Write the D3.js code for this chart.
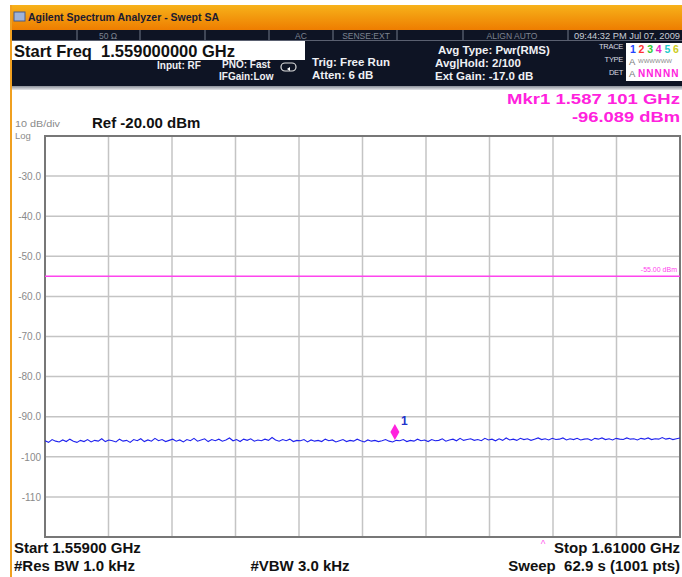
<!DOCTYPE html>
<html><head><meta charset="utf-8">
<script src="https://cdn.jsdelivr.net/npm/d3@7"></script>
<style>
html,body{margin:0;padding:0;background:#fff;}
svg{display:block;font-family:"Liberation Sans",Arial,sans-serif;}
</style></head>
<body>
<svg id="c" width="682" height="577"></svg>
<script>
// ---- data ----
const freqRange = [1.559, 1.610];          // GHz
const levelRange = [-120, -20];            // dBm
const yTickValues = [-30, -40, -50, -60, -70, -80, -90, -100, -110];
const yTickLabels = ["-30.0", "-40.0", "-50.0", "-60.0", "-70.0", "-80.0", "-90.0", "-100", "-110"];
const xGridCount = 10;
const limitLevel = -55;
const limitLabel = "-55.00 dBm";
const markerFreq = 1.587101;
const markerLevel = -96.089;
const traceDbm = [
 -96.0,-96.4,-95.7,-96.1,-96.3,-95.8,-96.2,-95.6,-96.1,-96.4,-95.9,-96.2,-95.7,-96.3,-95.9,-96.1,-95.5,-96.2,-95.8,-96.0,
 -96.3,-95.6,-96.1,-95.9,-96.4,-95.7,-96.0,-95.5,-96.2,-95.8,-96.1,-95.4,-96.0,-95.7,-96.2,-95.9,-95.6,-96.1,-95.8,-96.3,
 -95.7,-96.0,-95.4,-96.1,-95.8,-95.5,-96.2,-95.7,-96.0,-95.6,-96.1,-95.8,-95.3,-96.0,-95.7,-96.2,-95.6,-95.9,-95.5,-96.1,
 -95.8,-96.0,-95.6,-95.9,-95.2,-95.8,-96.1,-95.7,-96.0,-95.6,-96.2,-95.9,-96.0,-95.7,-96.3,-95.8,-96.1,-95.9,-96.2,-95.6,
 -96.0,-95.8,-96.3,-96.0,-95.7,-96.2,-95.9,-96.1,-95.6,-96.0,-96.3,-95.8,-96.1,-95.9,-96.2,-96.0,-95.7,-96.1,-96.3,-95.9,
 -96.0,-95.7,-96.2,-95.9,-96.1,-95.6,-96.0,-95.8,-96.2,-95.7,-96.0,-95.9,-95.5,-96.1,-95.8,-95.6,-96.0,-95.4,-95.9,-95.7,
 -95.5,-95.9,-95.7,-96.0,-95.4,-95.8,-95.6,-96.0,-95.5,-95.9,-95.3,-95.8,-95.6,-95.9,-95.4,-95.7,-95.5,-95.9,-95.6,-95.3,
 -95.7,-95.5,-95.8,-95.4,-95.7,-95.6,-95.3,-95.8,-95.5,-95.7,-95.4,-95.8,-95.6,-95.5,-95.9,-95.4,-95.6,-95.3,-95.7,-95.5,
 -95.8,-95.4,-95.6,-95.7,-95.3,-95.6,-95.5,-95.8,-95.4,-95.6,-95.3,-95.7,-95.5,-95.6,-95.2,-95.6,-95.4,-95.7,-95.5,-95.3
];
const headerTexts = {
  title: "Agilent Spectrum Analyzer - Swept SA",
  startFreq: "Start Freq  1.559000000 GHz",
  bottomLeft1: "Start 1.55900 GHz",
  bottomLeft2: "#Res BW 1.0 kHz",
  bottomMid: "#VBW 3.0 kHz",
  bottomRight1: "Stop 1.61000 GHz",
  bottomRight2: "Sweep  62.9 s (1001 pts)",
  mkr1: "Mkr1 1.587 101 GHz",
  mkr2: "-96.089 dBm"
};

// ---- layout ----
const svg = d3.select("#c");
const P = {l: 45, r: 680, t: 136, b: 537};
const x = d3.scaleLinear().domain(freqRange).range([P.l, P.r]);
const y = d3.scaleLinear().domain(levelRange).range([P.b, P.t]);

// defs
const defs = svg.append("defs");
const og = defs.append("linearGradient").attr("id","og").attr("x1",0).attr("y1",0).attr("x2",0).attr("y2",1);
og.append("stop").attr("offset","0%").attr("stop-color","#f7b21a");
og.append("stop").attr("offset","100%").attr("stop-color","#ee7d00");
const gg = defs.append("linearGradient").attr("id","gg").attr("x1",0).attr("y1",0).attr("x2",0).attr("y2",1);
gg.append("stop").attr("offset","0%").attr("stop-color","#8a8f98");
gg.append("stop").attr("offset","100%").attr("stop-color","#e6e7ea");

// title bar
svg.append("rect").attr("x",10).attr("y",5).attr("width",672).attr("height",25).attr("fill","url(#og)");
svg.append("rect").attr("x",10).attr("y",5).attr("width",2).attr("height",572).attr("fill","#f0a020");
svg.append("rect").attr("x",14).attr("y",12).attr("width",11).attr("height",9).attr("fill","#9fb3d9").attr("stroke","#4a5d8a").attr("stroke-width",1);
svg.append("text").attr("x",28).attr("y",21).attr("font-size",10.5).attr("font-weight","bold").attr("fill","#1b1b30").text(headerTexts.title);

// status row
svg.append("rect").attr("x",12).attr("y",30).attr("width",670).attr("height",57).attr("fill","#0e1424");
const seps = [77, 140, 205, 269, 333, 397, 463, 568];
svg.selectAll(".sep").data(seps).enter().append("line")
  .attr("x1",d=>d).attr("x2",d=>d).attr("y1",30).attr("y2",40).attr("stroke","#707888").attr("stroke-width",1);
const statusItems = [[108,"50 Ω"],[301,"AC"],[366,"SENSE:EXT"],[512,"ALIGN AUTO"],[627,"09:44:32 PM Jul 07, 2009"]];
svg.selectAll(".st").data(statusItems).enter().append("text")
  .attr("x",d=>d[0]).attr("y",38.5).attr("text-anchor","middle").attr("font-size",d=>d[1].length>20?9.3:8.5)
  .attr("fill",(d,i)=>i===4?"#c8ccd4":"#7d8390").text(d=>d[1]);
svg.append("line").attr("x1",12).attr("x2",682).attr("y1",40.5).attr("y2",40.5).attr("stroke","#5a6070");

// Start freq box
svg.append("rect").attr("x",12).attr("y",41).attr("width",293).attr("height",19).attr("fill","#fff");
svg.append("text").attr("x",14).attr("y",57).attr("font-size",16.5).attr("font-weight","bold").attr("fill","#111")
  .style("white-space","pre").text(headerTexts.startFreq);

// header white texts
const hdr = [
  [157,69,"Input: RF",10],
  [222,68,"PNO: Fast",10],
  [219,80,"IFGain:Low",10],
  [312,66,"Trig: Free Run",11.5],
  [312,79,"Atten: 6 dB",11.5],
  [438,54,"Avg Type: Pwr(RMS)",11.5],
  [435,67,"Avg|Hold: 2/100",11.5],
  [435,80,"Ext Gain: -17.0 dB",11.5]
];
svg.selectAll(".hd").data(hdr).enter().append("text")
  .attr("x",d=>d[0]).attr("y",d=>d[1]).attr("font-size",d=>d[3]).attr("font-weight","bold").attr("fill","#eef0f4").text(d=>d[2]);
// PNO icon
svg.append("rect").attr("x",281).attr("y",63).attr("width",15).attr("height",8).attr("rx",4).attr("fill","none").attr("stroke","#ddd").attr("stroke-width",1.2);
svg.append("path").attr("d","M287,69 l3,-2 l0,4 z").attr("fill","#fff");

// trace box
const trLabels = [[49,"TRACE"],[62,"TYPE"],[75,"DET"]];
svg.selectAll(".tl").data(trLabels).enter().append("text")
  .attr("x",623).attr("y",d=>d[0]).attr("text-anchor","end").attr("font-size",7.5).attr("fill","#d8dbe2").attr("letter-spacing","-0.3").text(d=>d[1]);
svg.append("rect").attr("x",626).attr("y",43).attr("width",56).attr("height",38).attr("fill","#fff");
const traceCols = ["#2244ff","#ff3333","#33cc33","#ee22cc","#22cccc","#cccc22"];
traceCols.forEach((c,i)=>{
  svg.append("text").attr("x",630+i*8.6).attr("y",53).attr("font-size",10.5).attr("font-weight","bold").attr("fill",c).text(String(i+1));
  if (i < 5) svg.append("text").attr("x",638+i*8.3).attr("y",77).attr("font-size",10).attr("font-weight","bold").attr("fill","#ff22dd").text("N");
});
svg.append("text").attr("x",629).attr("y",65).attr("font-size",9.5).attr("fill","#777").text("A");
svg.append("text").attr("x",638).attr("y",63).attr("font-size",6).attr("fill","#888").text("WWWWWW");
svg.append("text").attr("x",629).attr("y",77).attr("font-size",9.5).attr("fill","#777").text("A");

// grey bottom strip of header
svg.append("rect").attr("x",12).attr("y",86).attr("width",670).attr("height",4).attr("fill","url(#gg)");

// marker readout
svg.append("text").attr("x",680).attr("y",104).attr("text-anchor","end").attr("font-size",15.5).attr("font-weight","600")
  .attr("textLength",173).attr("lengthAdjust","spacingAndGlyphs").attr("fill","#ff22dd").text(headerTexts.mkr1);
svg.append("text").attr("x",680).attr("y",122).attr("text-anchor","end").attr("font-size",15.5).attr("font-weight","600")
  .attr("textLength",108).attr("lengthAdjust","spacingAndGlyphs").attr("fill","#ff22dd").text(headerTexts.mkr2);
svg.append("text").attr("x",15).attr("y",127).attr("font-size",9.5).attr("fill","#8a8a8a")
  .attr("textLength",45).attr("lengthAdjust","spacingAndGlyphs").text("10 dB/div");
svg.append("text").attr("x",15).attr("y",138.5).attr("font-size",9.5).attr("fill","#8a8a8a").text("Log");
svg.append("text").attr("x",92).attr("y",128).attr("font-size",15).attr("font-weight","bold").attr("fill","#111").text("Ref -20.00 dBm");

// grid
const g = svg.append("g");
const xt = d3.range(1, xGridCount).map(i => freqRange[0] + i*(freqRange[1]-freqRange[0])/xGridCount);
g.selectAll(".vx").data(xt).enter().append("line")
  .attr("x1",d=>x(d)).attr("x2",d=>x(d)).attr("y1",P.t).attr("y2",P.b).attr("stroke","#c4c4c4").attr("stroke-width",1.5);
g.selectAll(".hy").data(yTickValues).enter().append("line")
  .attr("x1",P.l).attr("x2",P.r).attr("y1",d=>y(d)).attr("y2",d=>y(d)).attr("stroke","#c4c4c4").attr("stroke-width",1.5);
g.append("rect").attr("x",P.l).attr("y",P.t).attr("width",P.r-P.l).attr("height",P.b-P.t)
  .attr("fill","none").attr("stroke","#777").attr("stroke-width",2);

// y labels via axis
const yAxis = d3.axisLeft(y).tickValues(yTickValues).tickSize(0).tickPadding(4).tickFormat((d,i)=>yTickLabels[i]);
const ya = svg.append("g").attr("transform",`translate(${P.l},0)`).call(yAxis);
ya.select(".domain").remove();
ya.selectAll("text").attr("font-size",10).attr("fill","#8a8a8a").attr("font-family","Liberation Sans, Arial, sans-serif");

// limit line
svg.append("line").attr("x1",P.l).attr("x2",P.r).attr("y1",y(limitLevel)).attr("y2",y(limitLevel)).attr("stroke","#ff44ee").attr("stroke-width",1.5);
svg.append("text").attr("x",677).attr("y",y(limitLevel)-4).attr("text-anchor","end").attr("font-size",7).attr("fill","#ff44ee").text(limitLabel);

// trace
const tx = d3.scaleLinear().domain([0, traceDbm.length-1]).range(freqRange);
const line = d3.line().x((d,i)=>x(tx(i))).y(d=>y(d));
svg.append("path").datum(traceDbm).attr("d",line).attr("fill","none").attr("stroke","#1f22ee").attr("stroke-width",1.1);

// marker
const mx = x(markerFreq), my = y(markerLevel);
svg.append("path").attr("d",`M${mx},${my-17} L${mx+4.5},${my-9} L${mx},${my-1} L${mx-4.5},${my-9} Z`).attr("fill","#ff22dd");
svg.append("text").attr("x",mx+6).attr("y",my-16).attr("font-size",12).attr("font-weight","bold").attr("fill","#2233cc").text("1");
svg.append("text").attr("x",x(1.599)).attr("y",548).attr("text-anchor","middle").attr("font-size",10).attr("fill","#ff66ee").text("^");

// bottom texts
const bt = [
  [14,553,"start",headerTexts.bottomLeft1],
  [14,571,"start",headerTexts.bottomLeft2],
  [300,571,"middle",headerTexts.bottomMid],
  [680,553,"end",headerTexts.bottomRight1],
  [680,571,"end",headerTexts.bottomRight2]
];
svg.selectAll(".bt").data(bt).enter().append("text")
  .attr("x",d=>d[0]).attr("y",d=>d[1]).attr("text-anchor",d=>d[2]).attr("font-size",15).attr("font-weight","bold")
  .attr("fill","#111").style("white-space","pre").text(d=>d[3]);
</script>
</body></html>
